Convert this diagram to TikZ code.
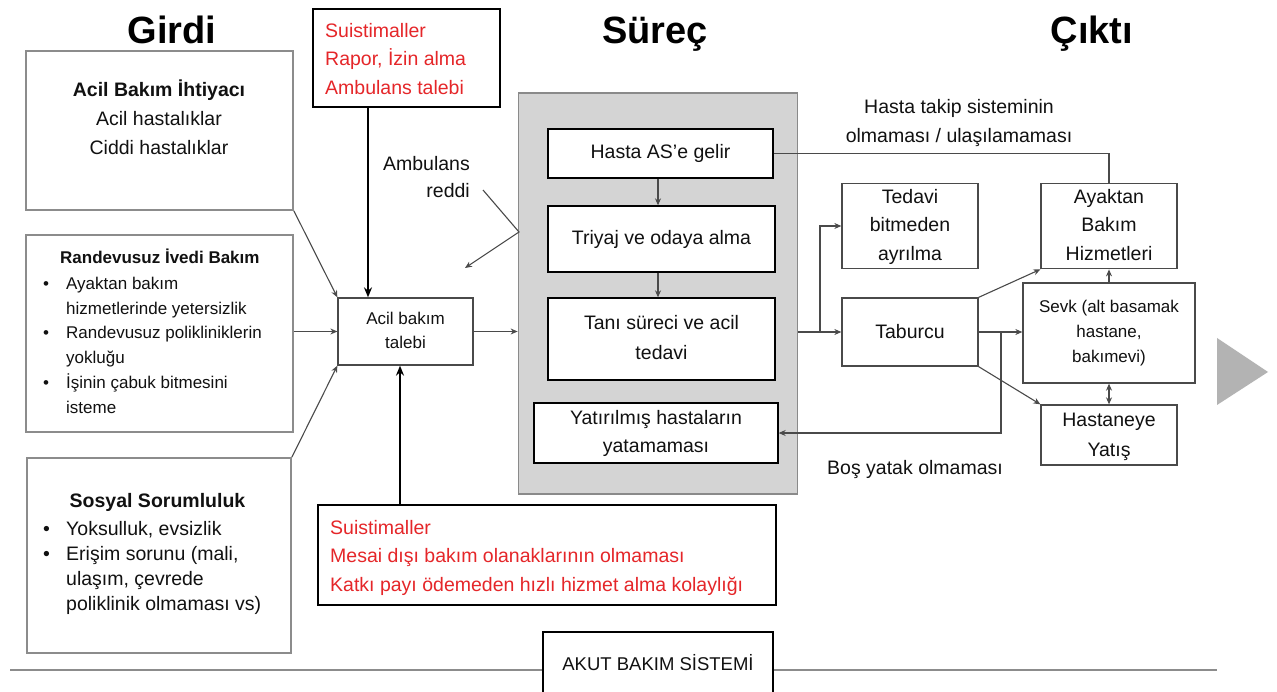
\documentclass[tikz,border=0pt]{standalone}
\usepackage{fontspec}
\setmainfont{Liberation Sans}
\usetikzlibrary{arrows.meta,calc}
\definecolor{boxgrey}{HTML}{8C8C8C}
\definecolor{darkline}{HTML}{4A4A4A}
\definecolor{redtxt}{HTML}{E52629}
\definecolor{procfill}{HTML}{D4D4D4}
\definecolor{procline}{HTML}{8A8A8A}
\definecolor{triag}{HTML}{B3B3B3}
\definecolor{txtcol}{HTML}{111111}
\tikzset{
  txt/.style={inner sep=0pt, text=txtcol},
  lbox/.style={draw=boxgrey, line width=1.8pt, fill=white, inner sep=0pt},
  redbox/.style={draw=black, line width=1.4pt, fill=white, inner sep=0pt},
  ibox/.style={draw=black, line width=1.3pt, fill=white, inner sep=0pt, align=center, text=txtcol},
  rbox/.style={draw=darkline, line width=1.3pt, fill=white, inner sep=0pt, align=center, text=txtcol},
  arr/.style={draw=darkline, line width=1.1pt, -{Stealth[length=7pt,width=6pt]}},
  dblarr/.style={draw=darkline, line width=1.1pt, {Stealth[length=7pt,width=6pt]}-{Stealth[length=7pt,width=6pt]}},
  plainline/.style={draw=darkline, line width=1.1pt},
  thickarr/.style={draw=black, line width=1.6pt, -{Stealth[length=10pt,width=8pt]}},
  titletxt/.style={inner sep=0pt, text=black, font=\fontsize{38}{40}\selectfont\bfseries},
}
\begin{document}
\begin{tikzpicture}[x=1pt,y=-1pt]
\useasboundingbox (0,0) rectangle (1277,692);
\fill[white] (0,0) rectangle (1277,692);

% titles
\node[titletxt, anchor=base] (tgirdi) at (172,44) {Girdi};
\node[titletxt, anchor=base] (tsurec) at (655,44) {Süreç};
\node[titletxt, anchor=base] (tcikti) at (1092,44) {Çıktı};

% left boxes
\node[lbox, minimum width=267, minimum height=159] (acil) at (159.5,130.5) {};
\node[txt, align=center, font=\fontsize{19.5}{29}\selectfont] (aciltxt) at (159,120)
  {\strut\textbf{Acil Bakım İhtiyacı}\\\strut Acil hastalıklar\\\strut Ciddi hastalıklar};

\node[lbox, minimum width=267, minimum height=197] (rand) at (159.5,333.5) {};
\node[txt, anchor=base west, font=\fontsize{17}{24.8}\selectfont\bfseries] (randtitle) at (60,264) {Randevusuz İvedi Bakım};
\node[txt, anchor=north west, align=left, font=\fontsize{17}{24.8}\selectfont] (randlist) at (43,271.8)
  {\strut\makebox[23pt][l]{•}Ayaktan bakım\\
   \strut\hspace*{23pt}hizmetlerinde yetersizlik\\
   \strut\makebox[23pt][l]{•}Randevusuz polikliniklerin\\
   \strut\hspace*{23pt}yokluğu\\
   \strut\makebox[23pt][l]{•}İşinin çabuk bitmesini\\
   \strut\hspace*{23pt}isteme};

\node[lbox, minimum width=264, minimum height=195] (sos) at (159,555.5) {};
\node[txt, anchor=base, font=\fontsize{19.5}{25}\selectfont\bfseries] (sostitle) at (157.5,507) {Sosyal Sorumluluk};
\node[txt, anchor=north west, align=left, font=\fontsize{19.5}{25}\selectfont] (soslist) at (43,517.5)
  {\strut\makebox[23pt][l]{•}Yoksulluk, evsizlik\\
   \strut\makebox[23pt][l]{•}Erişim sorunu (mali,\\
   \strut\hspace*{23pt}ulaşım, çevrede\\
   \strut\hspace*{23pt}poliklinik olmaması vs)};

% red boxes
\node[redbox, minimum width=187, minimum height=98] (redtop) at (406.5,58) {};
\node[txt, text=redtxt, anchor=north west, align=left, font=\fontsize{19.5}{28.5}\selectfont] (redtoptxt) at (325,17)
  {\strut Suistimaller\\\strut Rapor, İzin alma\\\strut Ambulans talebi};

\node[redbox, minimum width=458, minimum height=100] (redbot) at (547,555) {};
\node[txt, text=redtxt, anchor=north west, align=left, font=\fontsize{19.5}{28.5}\selectfont] (redbottxt) at (330,514)
  {\strut Suistimaller\\\strut Mesai dışı bakım olanaklarının olmaması\\\strut Katkı payı ödemeden hızlı hizmet alma kolaylığı};

% ambulans reddi
\node[txt, anchor=north east, align=right, font=\fontsize{19.5}{27}\selectfont] (ambred) at (470,151)
  {\strut Ambulans\\\strut reddi};

% talep
\node[ibox, draw=darkline, minimum width=135, minimum height=67, font=\fontsize{17}{24}\selectfont] (talep) at (405.5,331.5)
  {\strut Acil bakım\\\strut talebi};

% process box
\node[draw=procline, fill=procfill, line width=1.8pt, minimum width=279, minimum height=401, inner sep=0pt] (grey) at (658,293.5) {};
\node[ibox, minimum width=225, minimum height=49, font=\fontsize{19.5}{28}\selectfont] (hasta) at (660.5,153.5) {Hasta AS’e gelir};
\node[ibox, minimum width=227, minimum height=66, font=\fontsize{19.5}{28}\selectfont] (triyaj) at (661.5,239) {Triyaj ve odaya alma};
\node[ibox, minimum width=227, minimum height=82, font=\fontsize{19.5}{30}\selectfont] (tani) at (661.5,339)
  {\strut Tanı süreci ve acil\\\strut tedavi};
\node[ibox, minimum width=244, minimum height=60, font=\fontsize{19.5}{28}\selectfont] (yatir) at (656,433)
  {\strut Yatırılmış hastaların\\\strut yatamaması};

% right boxes
\node[rbox, minimum width=136, minimum height=82, font=\fontsize{19.5}{28.5}\selectfont] (tedavi) at (910,226)
  {\strut Tedavi\\\strut bitmeden\\\strut ayrılma};
\node[rbox, minimum width=136, minimum height=68, font=\fontsize{19.5}{28}\selectfont] (taburcu) at (910,332) {Taburcu};
\node[rbox, minimum width=136, minimum height=82, font=\fontsize{19.5}{28.5}\selectfont] (ayaktan) at (1109,226)
  {\strut Ayaktan\\\strut Bakım\\\strut Hizmetleri};
\node[rbox, minimum width=172, minimum height=100, font=\fontsize{17}{25}\selectfont] (sevk) at (1109,333)
  {\strut Sevk (alt basamak\\\strut hastane,\\\strut bakımevi)};
\node[rbox, minimum width=136, minimum height=58, font=\fontsize{19.5}{30}\selectfont] (hastaneye) at (1109,435)
  {\strut Hastaneye\\\strut Yatış};

% labels
\node[txt, align=center, font=\fontsize{19.5}{29}\selectfont] (takip) at (959,122)
  {\strut Hasta takip sisteminin\\\strut olmaması / ulaşılamaması};
\node[txt, anchor=base, font=\fontsize{19.5}{28}\selectfont] (bosyatak) at (915,474) {Boş yatak olmaması};

% coordinates
\coordinate (rtx) at (368,0);
\coordinate (rbx) at (400,0);
\coordinate (hsx) at (658,0);
\coordinate (ar1) at (483,190);
\coordinate (ar2) at (519,232);
\coordinate (ar3) at (465,268);
\coordinate (brx) at (820,0);
\coordinate (bsx) at (1001,0);

% connectors left
\draw[arr] (acil.south east) -- (talep.north west);
\draw[arr] (rand.east |- talep.west) -- (talep.west);
\draw[arr] (sos.north east) -- (talep.south west);
\draw[thickarr] (redtop.south -| rtx) -- (talep.north -| rtx);
\draw[thickarr] (redbot.north -| rbx) -- (talep.south -| rbx);
\draw[arr] (talep.east) -- (talep.east -| grey.west);
\draw[arr] (ar1) -- (ar2) -- (ar3);

% process
\draw[arr] (hasta.south -| hsx) -- (triyaj.north -| hsx);
\draw[arr] (triyaj.south -| hsx) -- (tani.north -| hsx);

% right
\draw[plainline] (hasta.east) -| (ayaktan.north);
\draw[arr] (grey.east |- taburcu.west) -- (taburcu.west);
\draw[arr] (brx |- taburcu.west) |- (tedavi.west);
\draw[arr] (taburcu.east) -- (taburcu.east -| sevk.west);
\draw[arr] (bsx |- taburcu.east) |- (yatir.east);
\draw[arr] (taburcu.north east) -- (ayaktan.south west);
\draw[arr] (taburcu.south east) -- (hastaneye.north west);
\draw[arr] (sevk.north) -- (ayaktan.south);
\draw[dblarr] (sevk.south) -- (hastaneye.north);

% triangle
\fill[triag] (1217,338) -- (1217,405) -- (1268,372) -- cycle;

% bottom line and akut box
\draw[draw=boxgrey, line width=1.8pt] (10,670) -- (1217,670);
\node[draw=black, line width=1.4pt, fill=white, minimum width=230, minimum height=70, inner sep=0pt] (akut) at (658,667) {};
\node[txt, anchor=base, font=\fontsize{18.5}{22}\selectfont] (akuttxt) at (658,670) {AKUT BAKIM SİSTEMİ};
\end{tikzpicture}
\end{document}
